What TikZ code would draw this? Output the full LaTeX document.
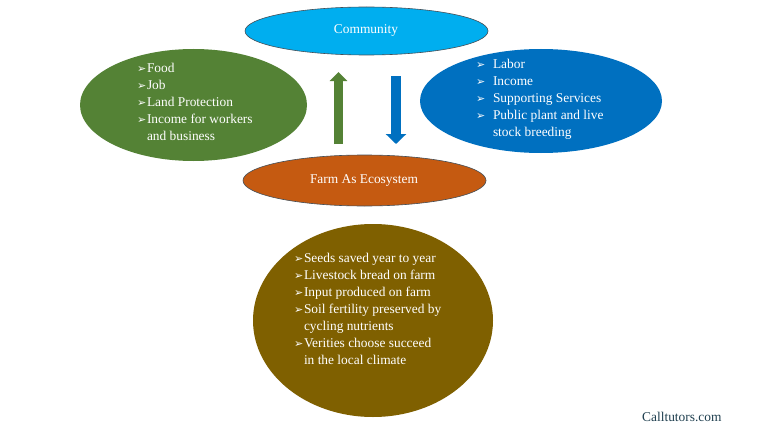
\documentclass[tikz,border=0pt]{standalone}
\usepackage{fontspec}
\setmainfont{Liberation Serif}
\newfontfamily\symfont{DejaVu Sans}
\usetikzlibrary{shapes.geometric,arrows.meta}
\definecolor{cComm}{HTML}{00AEEF}
\definecolor{cGreen}{HTML}{548235}
\definecolor{cBlue}{HTML}{0070C0}
\definecolor{cFarm}{HTML}{C55A11}
\definecolor{cBrown}{HTML}{7F6000}
\definecolor{cMark}{HTML}{1F3F4F}
\newcommand{\bulletA}{\makebox[10pt][l]{\symfont\fontsize{11}{17}\selectfont ➢}}
\newcommand{\bulletB}{\makebox[17pt][l]{\symfont\fontsize{11}{17}\selectfont ➢}}
\newcommand{\indentA}{\makebox[10pt][l]{}}
\newcommand{\indentB}{\makebox[17pt][l]{}}
\tikzset{
  x=1pt,y=-1pt,
  blob/.style={ellipse,inner sep=0pt,outer sep=0pt},
  lined/.style={draw=black!75!cyan,line width=0.6pt},
  listtext/.style={anchor=north west,inner sep=0pt,outer sep=0pt,align=left,text=white,
    font=\fontsize{13.4}{17}\selectfont},
  title/.style={text=white,inner sep=0pt,font=\fontsize{13.4}{17}\selectfont},
  blockgreen/.style={draw=cGreen,line width=9pt,-{Triangle[length=9pt,width=17pt,color=cGreen]}},
  blockblue/.style={draw=cBlue,line width=10pt,-{Triangle[length=10pt,width=20pt,color=cBlue]}},
}
\begin{document}
\begin{tikzpicture}
\useasboundingbox (0,0) rectangle (760,428);
\fill[white] (0,0) rectangle (760,428);
\node[blob,lined,fill=cComm,minimum width=243pt,minimum height=48pt] (community) at (366.5,31) {};
\node[blob,fill=cGreen,minimum width=227pt,minimum height=112pt] (green) at (193.5,105) {};
\node[blob,fill=cBlue,minimum width=242pt,minimum height=104pt] (blue) at (541,101) {};
\node[blob,lined,fill=cFarm,minimum width=243pt,minimum height=51pt] (farm) at (364.5,180.5) {};
\node[blob,fill=cBrown,minimum width=240pt,minimum height=193pt] (brown) at (373,320.5) {};
\node[title] (communitytext) at (366,31) {Community};
\node[title] (farmtext) at (364,180.5) {Farm As Ecosystem};
\node[listtext] (greenlist) at (137,63) {\bulletA Food\\\bulletA Job\\\bulletA Land Protection\\\bulletA Income for workers\\\indentA and business};
\node[listtext] (bluelist) at (476,59) {\bulletB Labor\\\bulletB Income\\\bulletB Supporting Services\\\bulletB Public plant and live\\\indentB stock breeding};
\node[listtext] (brownlist) at (294,253) {\bulletA Seeds saved year to year\\\bulletA Livestock bread on farm\\\bulletA Input produced on farm\\\bulletA Soil fertility preserved by\\\indentA cycling nutrients\\\bulletA Verities choose succeed\\\indentA in the local climate};
\node[anchor=base west,inner sep=0pt,text=cMark,font=\fontsize{13.4}{17}\selectfont] (mark) at (642,421) {Calltutors.com};
\coordinate (upstart) at (338.5,144);
\coordinate (upend) at (338.5,72);
\coordinate (downstart) at (396,76);
\coordinate (downend) at (396,144);
\draw[blockgreen] (upstart) -- (upend);
\draw[blockblue] (downstart) -- (downend);
\end{tikzpicture}
\end{document}
